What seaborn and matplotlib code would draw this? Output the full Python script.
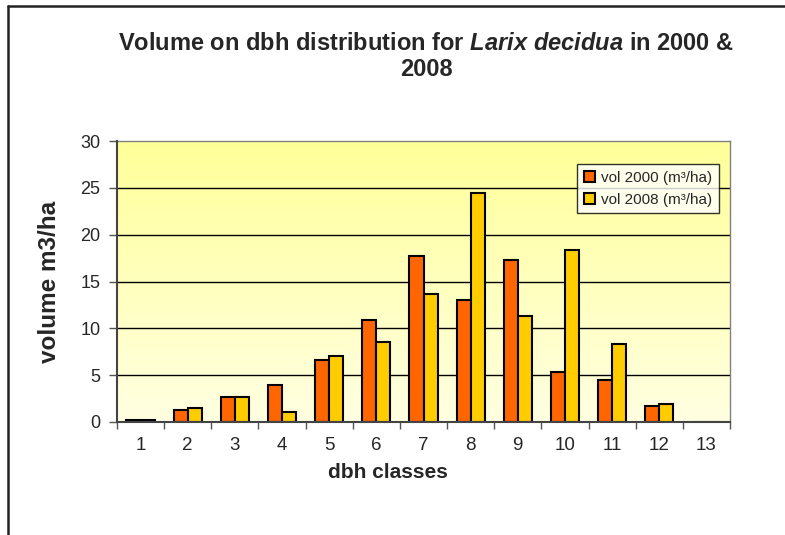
import matplotlib
matplotlib.use("Agg")
import matplotlib.pyplot as plt
from matplotlib.lines import Line2D
import numpy as np
import pandas as pd
import seaborn as sns

# --- data ---
dbh_classes = ["1", "2", "3", "4", "5", "6", "7", "8", "9", "10", "11", "12", "13"]
vol_2000 = [0.2, 1.3, 2.7, 3.9, 6.6, 10.9, 17.7, 13.0, 17.3, 5.3, 4.5, 1.7, 0.0]
vol_2008 = [0.2, 1.5, 2.7, 1.1, 7.0, 8.5, 13.7, 24.5, 11.3, 18.4, 8.3, 1.9, 0.0]
series_labels = ["vol 2000 (m³/ha)", "vol 2008 (m³/ha)"]
y_ticks = [0, 5, 10, 15, 20, 25, 30]

df = pd.DataFrame({
    "dbh": dbh_classes * 2,
    "volume": vol_2000 + vol_2008,
    "series": [series_labels[0]] * len(dbh_classes) + [series_labels[1]] * len(dbh_classes),
})

sns.set_theme(style="white")
plt.rcParams["font.family"] = ["Liberation Sans", "DejaVu Sans"]
plt.rcParams["mathtext.fontset"] = "custom"
plt.rcParams["mathtext.rm"] = "Liberation Sans:bold"
plt.rcParams["mathtext.it"] = "Liberation Sans:italic:bold"

fig = plt.figure(figsize=(7.85, 5.35), dpi=100)
ax = fig.add_axes([117 / 785, 1 - 422 / 535, 613 / 785, 281 / 535])

# yellow gradient plot background
grad = np.linspace(0, 1, 256).reshape(-1, 1)
cmap = matplotlib.colors.LinearSegmentedColormap.from_list("bg", ["#FFFFE2", "#FFFF99"])
ax.imshow(grad, extent=[0, 1, 0, 1], transform=ax.transAxes, origin="lower",
          cmap=cmap, aspect="auto", zorder=0)

for v in y_ticks[1:-1]:
    ax.axhline(v, color="black", linewidth=1.0, zorder=1)

sns.barplot(data=df, x="dbh", y="volume", hue="series",
            palette=["#FF6600", "#FFCC00"], saturation=1, width=0.6, gap=0,
            edgecolor="black", linewidth=1.5, ax=ax, zorder=2)

ax.set_xlim(-0.5, len(dbh_classes) - 0.5)
ax.set_ylim(0, 30)
ax.set_yticks(y_ticks)
ax.set_yticklabels([str(t) for t in y_ticks], fontsize=13)
ax.set_xticks(range(len(dbh_classes)))
ax.set_xticklabels(dbh_classes, fontsize=13.5)
ax.set_xticks(np.arange(-0.5, len(dbh_classes)), minor=True)
ax.tick_params(axis="x", which="major", length=0, pad=11)
ax.tick_params(axis="x", which="minor", length=5, width=1, color="#555555", bottom=True)
ax.tick_params(axis="y", length=6, width=1, color="#555555", left=True, pad=6)

for side, sp in ax.spines.items():
    sp.set_visible(True)
    sp.set_color("#808080")
    sp.set_linewidth(1.0)
for side in ("left", "bottom"):
    ax.spines[side].set_color("#444444")
    ax.spines[side].set_linewidth(1.5)
    ax.spines[side].set_zorder(3)

ax.set_xlabel("dbh classes", fontsize=15, fontweight="bold")
ax.xaxis.set_label_coords((388 - 117) / 613, -(473 - 422) / 281)
ax.xaxis.label.set_va("center")
ax.set_ylabel("volume m3/ha", fontsize=17.5, fontweight="bold", labelpad=14)

handles, labels = ax.get_legend_handles_labels()
leg = ax.legend(handles, labels, loc="upper right", bbox_to_anchor=(0.982, 0.918),
                borderaxespad=0, fontsize=11, frameon=True, fancybox=False,
                handlelength=0.7, handleheight=0.7, handletextpad=0.4,
                labelspacing=0.5, borderpad=0.45)
leg.get_frame().set_edgecolor("black")
leg.get_frame().set_facecolor("white")
leg.get_frame().set_linewidth(1.0)

# title with italic species name
fig.text(426 / 785, 1 - 44 / 535,
         r"Volume on dbh distribution for $\mathit{Larix\ decidua}$ in 2000 &",
         ha="center", va="center", fontsize=17, fontweight="bold")
fig.text(426 / 785, 1 - 70 / 535, "2008", ha="center", va="center",
         fontsize=17, fontweight="bold")

# outer chart frame (top and left edges only visible in the crop)
fig.add_artist(Line2D([8 / 785, 1.0], [1 - 6 / 535, 1 - 6 / 535],
                      transform=fig.transFigure, color="#222222", linewidth=1.8))
fig.add_artist(Line2D([8 / 785, 8 / 785], [0, 1 - 6 / 535],
                      transform=fig.transFigure, color="#222222", linewidth=1.8))

fig.savefig("out.png", dpi=100)
